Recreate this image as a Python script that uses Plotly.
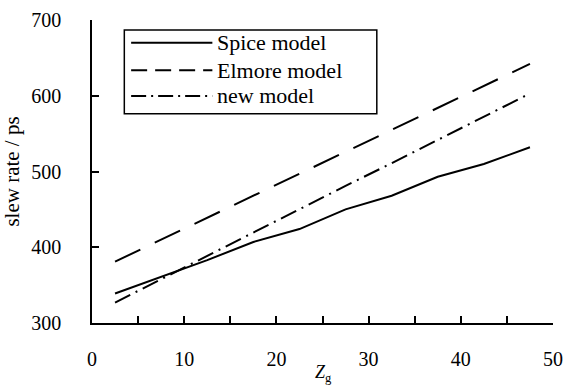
import plotly.graph_objects as go

zg = [2.5, 7.5, 12.5, 17.5, 22.5, 27.5, 32.5, 37.5, 42.5, 47.5]
spice = [339, 361, 383, 407, 424, 450, 468, 493, 510, 532]
elmore = [381, 410, 439, 468, 497, 526, 555, 584, 613, 642]
new_model = [327, 358, 389, 419, 450, 481, 511, 542, 573, 603]

series_names = ["Spice model", "Elmore model", "new model"]
x_ticks = [0, 10, 20, 30, 40, 50]
y_ticks = [300, 400, 500, 600, 700]

FONT = "Liberation Serif, Times New Roman, serif"
plot_dash = ["solid", "28px,16px", "17px,6px,2px,6px"]
legend_dash = ["solid", "16px,8px", "15px,5px,2px,5px"]

fig = go.Figure()
for name, ys, d in zip(series_names, [spice, elmore, new_model], plot_dash):
    fig.add_trace(go.Scatter(x=zg, y=ys, mode="lines", name=name,
                             line=dict(color="black", width=2, dash=d)))

# manual legend (long line samples as in the reference)
lx0, lx1, ly0, ly1 = 0.0701, 0.6178, 0.6906, 0.9674
fig.add_shape(type="rect", xref="paper", yref="paper", x0=lx0, x1=lx1, y0=ly0, y1=ly1,
              line=dict(color="black", width=1.5), fillcolor="white", layer="above")
row_y = [0.9251, 0.8339, 0.7492]
for name, ry, d in zip(series_names, row_y, legend_dash):
    fig.add_shape(type="line", xref="paper", yref="paper", x0=0.0849, x1=0.2611,
                  y0=ry, y1=ry, line=dict(color="black", width=2, dash=d), layer="above")
    fig.add_annotation(xref="paper", yref="paper", x=0.2675, y=ry, text=name,
                       showarrow=False, xanchor="left", yanchor="middle",
                       font=dict(family=FONT, size=22, color="black"))

# x-axis title
fig.add_annotation(xref="paper", yref="paper", x=0.503, y=-0.168,
                   text="<i>Z</i><sub>g</sub>", showarrow=False,
                   xanchor="center", yanchor="middle",
                   font=dict(family=FONT, size=18, color="black"))

fig.update_layout(
    width=572, height=387,
    margin=dict(l=92, r=9, t=16, b=64),
    paper_bgcolor="white", plot_bgcolor="white",
    font=dict(family=FONT, size=20, color="black"),
    showlegend=False,
    xaxis=dict(range=[0, 50], tickvals=x_ticks, ticks="inside", ticklen=7,
               tickwidth=1.5, tickcolor="black", showline=True, linecolor="black",
               linewidth=1.5, showgrid=False, zeroline=False,
               ticklabelstandoff=17, ticklabeloverflow="allow",
               tickfont=dict(family=FONT, size=20, color="black"),
               minor=dict(dtick=5, ticks="inside", ticklen=7, tickwidth=1.5,
                          tickcolor="black", showgrid=False)),
    yaxis=dict(range=[300, 700], tickvals=y_ticks, ticks="inside", ticklen=7,
               tickwidth=1.5, tickcolor="black", showline=True, linecolor="black",
               linewidth=1.5, showgrid=False, zeroline=False,
               ticklabelstandoff=25,
               tickfont=dict(family=FONT, size=20, color="black"),
               title=dict(text="slew rate / ps", standoff=6,
                          font=dict(family=FONT, size=21, color="black"))),
)

fig.write_html("out.html", config={"displayModeBar": False},
               post_script="document.body.style.margin='0';document.body.style.overflow='hidden';")
